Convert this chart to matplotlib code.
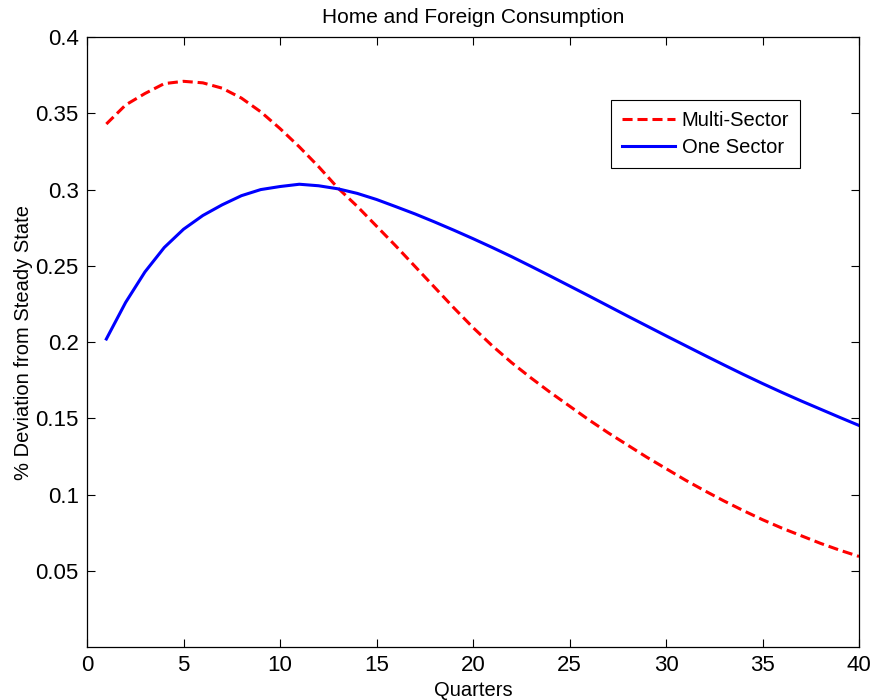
#!/usr/bin/env python3
"""
Impulse response of home and foreign consumption: multi-sector vs one sector.
"""

import matplotlib

matplotlib.use("Agg")
import matplotlib.pyplot as plt

quarters = list(range(1, 41))

multi_sector = [
    0.343, 0.3555, 0.363, 0.3695, 0.371, 0.370, 0.3665, 0.360, 0.351, 0.340,
    0.328, 0.315, 0.301, 0.289, 0.276, 0.263, 0.2495, 0.236, 0.2225, 0.2095,
    0.1975, 0.1865, 0.1765, 0.167, 0.158, 0.149, 0.1405, 0.1325, 0.1245, 0.117,
    0.1095, 0.1025, 0.0958, 0.0895, 0.0835, 0.078, 0.073, 0.068, 0.0635, 0.0594,
]

one_sector = [
    0.202, 0.226, 0.246, 0.262, 0.274, 0.283, 0.290, 0.296, 0.300, 0.302,
    0.3035, 0.3025, 0.3005, 0.2975, 0.2935, 0.2888, 0.284, 0.2788, 0.2734, 0.2678,
    0.262, 0.256, 0.2497, 0.2433, 0.2368, 0.2303, 0.2237, 0.2171, 0.2106, 0.2041,
    0.1977, 0.1913, 0.185, 0.1788, 0.1728, 0.167, 0.1614, 0.156, 0.1506, 0.1453,
]

x_ticks = [0, 5, 10, 15, 20, 25, 30, 35, 40]
y_ticks = [0.05, 0.1, 0.15, 0.2, 0.25, 0.3, 0.35, 0.4]
y_tick_labels = ["0.05", "0.1", "0.15", "0.2", "0.25", "0.3", "0.35", "0.4"]

plt.rcParams["font.family"] = ["Liberation Sans", "DejaVu Sans"]

fig = plt.figure(figsize=(8.73, 7.0), dpi=100)
ax = fig.add_axes([0.0997, 0.0757, 0.8843, 0.8713])

ax.plot(quarters, multi_sector, color="#ff0000", linestyle="--",
        dashes=(3.3, 1.6), linewidth=2.2, label="Multi-Sector")
ax.plot(quarters, one_sector, color="#0000ff", linewidth=2.2, label="One Sector")

ax.set_xlim(0, 40)
ax.set_ylim(0, 0.4)
ax.set_xticks(x_ticks)
ax.set_yticks(y_ticks)
ax.set_yticklabels(y_tick_labels)
ax.tick_params(direction="in", length=6, width=0.8, labelsize=16,
               top=True, right=True, pad=6)
for spine in ax.spines.values():
    spine.set_linewidth(0.9)

ax.set_title("Home and Foreign Consumption", fontsize=15, pad=10)
ax.set_xlabel("Quarters", fontsize=14.5, labelpad=3)
ax.set_ylabel("% Deviation from Steady State", fontsize=14.5, labelpad=2)

leg = ax.legend(loc="upper right", bbox_to_anchor=(0.924, 0.897),
                fontsize=14.5, handlelength=2.6, handletextpad=0.35,
                borderaxespad=0, fancybox=False, framealpha=1,
                borderpad=0.55, labelspacing=0.4)
leg.get_frame().set_edgecolor("black")
leg.get_frame().set_linewidth(0.8)

fig.savefig("out.png", dpi=100)
